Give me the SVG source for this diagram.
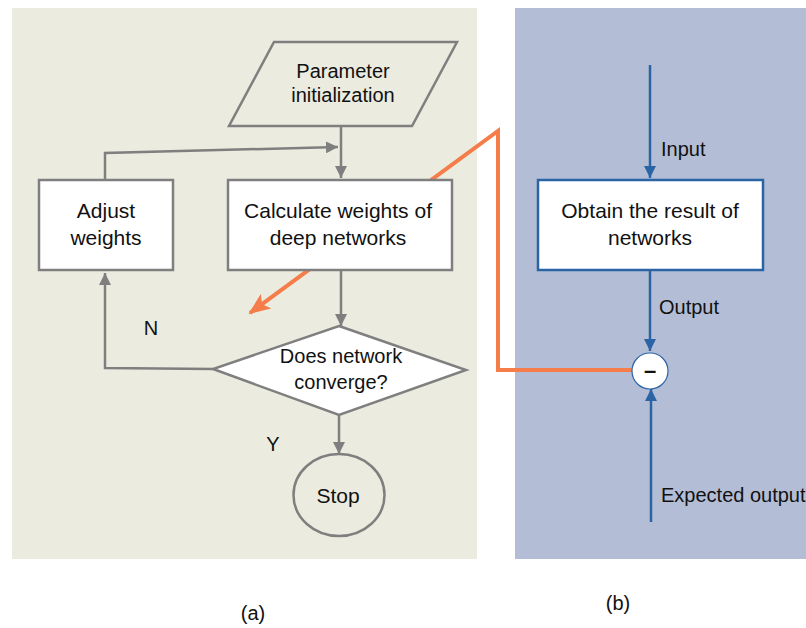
<svg xmlns="http://www.w3.org/2000/svg" width="806" height="628" viewBox="0 0 806 628">
<style>
text{font-family:"Liberation Sans",Arial,sans-serif;font-size:20px;fill:#111;}
.c{text-anchor:middle;}
.l{font-size:21px;}
.g{fill:none;stroke:#7f7f7f;stroke-width:2.5;}
.b{fill:none;stroke:#2b64a5;stroke-width:2.5;}
.node{fill:#fff;stroke:#7f7f7f;stroke-width:2.5;}
</style>
<defs>
<marker id="ag" markerUnits="userSpaceOnUse" markerWidth="12" markerHeight="12" refX="12" refY="6" orient="auto"><path d="M0,0 L12,6 L0,12 z" fill="#7f7f7f"/></marker>
<marker id="ab" markerUnits="userSpaceOnUse" markerWidth="12" markerHeight="12" refX="12" refY="6" orient="auto"><path d="M0,0 L12,6 L0,12 z" fill="#2b64a5"/></marker>
<marker id="ao" markerUnits="userSpaceOnUse" markerWidth="22" markerHeight="18" refX="20" refY="9" orient="auto"><path d="M0,0 L22,9 L0,18 L5,9 z" fill="#f47d4a"/></marker>
</defs>
<rect x="12" y="8" width="465" height="551" fill="#ebebe0"/>
<rect x="515" y="8" width="291" height="551" fill="#b3bed6"/>
<g id="connectors">
<polyline points="632,370 498,370 498,131 250,313" fill="none" stroke="#f47d4a" stroke-width="4" marker-end="url(#ao)"/>
<line x1="341" y1="126" x2="341" y2="178" class="g" marker-end="url(#ag)"/>
<polyline points="105,180 105,153 338,147" class="g" marker-end="url(#ag)"/>
<line x1="341" y1="270" x2="341" y2="326" class="g" marker-end="url(#ag)"/>
<polyline points="213,369 105,368 105,273" class="g" marker-end="url(#ag)"/>
<line x1="339" y1="415" x2="339" y2="454" class="g" marker-end="url(#ag)"/>
<line x1="650" y1="65" x2="650" y2="178" class="b" marker-end="url(#ab)"/>
<line x1="650" y1="270" x2="650" y2="351" class="b" marker-end="url(#ab)"/>
<line x1="651" y1="522" x2="651" y2="389" class="b" marker-end="url(#ab)"/>
<text x="151" y="335" class="c">N</text>
<text x="273" y="451" class="c">Y</text>
<text x="661" y="156">Input</text>
<text x="659" y="314">Output</text>
<text x="661" y="502">Expected output</text>
</g>
<g id="param">
<polygon points="274,42 457,42 412,126 229,126" class="node" style="fill:#ebebe0"/>
<text x="343" y="78" class="c">Parameter</text>
<text x="343" y="102" class="c">initialization</text>
</g>
<g id="adjust">
<rect x="39" y="180" width="134" height="90" class="node"/>
<text x="106" y="218" class="c l">Adjust</text>
<text x="106" y="245" class="c l">weights</text>
</g>
<g id="calc">
<rect x="228" y="180" width="224" height="90" class="node"/>
<text x="338" y="218" class="c l">Calculate weights of</text>
<text x="338" y="245" class="c l">deep networks</text>
</g>
<g id="decision">
<polygon points="339,326 466,370 339,415 213,369" class="node"/>
<text x="341" y="363" class="c">Does network</text>
<text x="341" y="389" class="c">converge?</text>
</g>
<g id="stop">
<ellipse cx="339" cy="495" rx="45.5" ry="41" class="node" style="fill:#ebebe0"/>
<text x="338" y="503" class="c l">Stop</text>
</g>
<g id="obtain">
<rect x="538" y="180" width="225" height="90" fill="#fff" stroke="#2b64a5" stroke-width="2.5"/>
<text x="650" y="218" class="c l">Obtain the result of</text>
<text x="650" y="245" class="c l">networks</text>
</g>
<g id="minus">
<circle cx="650" cy="371" r="18" fill="#fff" stroke="#2b64a5" stroke-width="1.2"/>
<text x="650" y="378" class="c" style="font-weight:bold;font-size:22px">–</text>
</g>
<text x="253" y="620" class="c">(a)</text>
<text x="618" y="610" class="c">(b)</text>
</svg>
